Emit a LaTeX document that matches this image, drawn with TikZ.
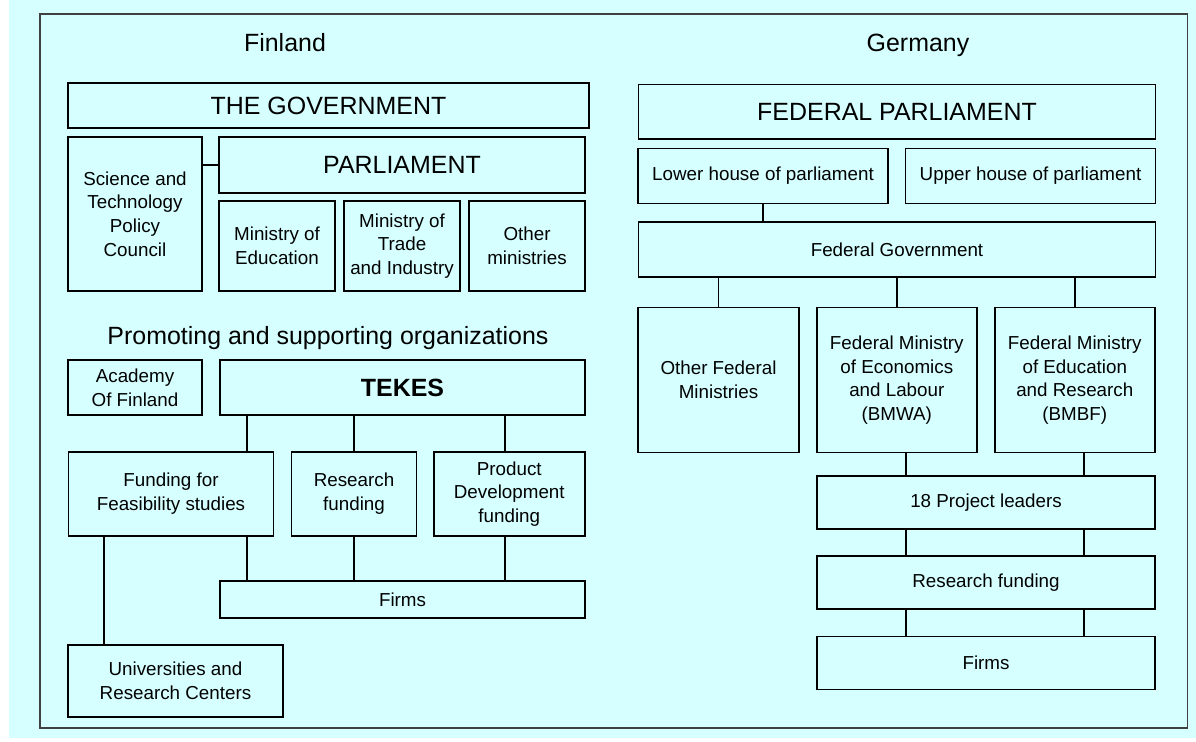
\documentclass[tikz,border=0pt]{standalone}
\usepackage{fontspec}
\setmainfont{Liberation Sans}
\usetikzlibrary{positioning}
\definecolor{bgcyan}{RGB}{214,255,255}
\tikzset{
  box/.style={draw=black,line width=0.9pt,inner sep=0pt,align=center,font=\fontsize{10.7}{13.5}\selectfont},
  bigbox/.style={box,font=\fontsize{14.2}{17}\selectfont},
  heading/.style={inner sep=0pt,anchor=base,font=\fontsize{14.2}{17}\selectfont},
  link/.style={line width=0.9pt}
}
\begin{document}
\begin{tikzpicture}[x=0.02cm,y=-0.02cm]
\useasboundingbox (0,0) rectangle (1196,742);
\fill[white] (0,0) rectangle (1196,742);
\fill[bgcyan] (9,0) rectangle (1196,738);
\draw[black!75,line width=0.9pt] (40,14) rectangle (1187.5,728);
% Finland
\node[heading] (fin) at (285,52) {Finland};
\node[bigbox,minimum width=10.42cm,minimum height=0.9cm] (gov) at (328.5,105.5) {THE GOVERNMENT};
\node[box,minimum width=2.68cm,minimum height=3.08cm] (stpc) at (135,214) {Science and\\Technology\\Policy\\Council};
\node[bigbox,minimum width=7.32cm,minimum height=1.12cm] (parl) at (402,165) {PARLIAMENT};
\node[box,minimum width=2.32cm,minimum height=1.8cm] (moe) at (277,246) {Ministry of\\Education};
\node[box,minimum width=2.32cm,minimum height=1.8cm] (mti) at (402,246) {Ministry of\\Trade\\and Industry};
\node[box,minimum width=2.32cm,minimum height=1.8cm] (othm) at (527,246) {Other\\ministries};
\node[heading] (prom) at (328,345) {Promoting and supporting organizations};
\node[box,minimum width=2.68cm,minimum height=1.1cm] (aof) at (135,387.5) {Academy\\Of Finland};
\node[bigbox,minimum width=7.3cm,minimum height=1.1cm,font=\fontsize{14.2}{17}\selectfont\bfseries] (tekes) at (402.5,387.5) {TEKES};
\node[box,minimum width=4.1cm,minimum height=1.68cm] (feas) at (171,494) {Funding for\\Feasibility studies};
\node[box,minimum width=2.5cm,minimum height=1.68cm] (resf) at (354,494) {Research\\funding};
\node[box,minimum width=3.02cm,minimum height=1.68cm] (prodf) at (509.3,494) {Product\\Development\\funding};
\node[box,minimum width=7.3cm,minimum height=0.74cm] (firmsfi) at (402.5,599.5) {Firms};
\node[box,minimum width=4.3cm,minimum height=1.44cm] (univ) at (175.5,681) {Universities and\\Research Centers};
\coordinate (xa) at (247,0);
\coordinate (xb) at (354,0);
\coordinate (xc) at (505,0);
\coordinate (xd) at (104,0);
\draw[link] (stpc.east |- parl.west) -- (parl.west);
\draw[link] (tekes.south -| xa) -- (feas.north -| xa);
\draw[link] (tekes.south -| xb) -- (resf.north -| xb);
\draw[link] (tekes.south -| xc) -- (prodf.north -| xc);
\draw[link] (feas.south -| xa) -- (firmsfi.north -| xa);
\draw[link] (resf.south -| xb) -- (firmsfi.north -| xb);
\draw[link] (prodf.south -| xc) -- (firmsfi.north -| xc);
\draw[link] (feas.south -| xd) -- (univ.north -| xd);
% Germany
\node[heading] (ger) at (918,52) {Germany};
\node[bigbox,minimum width=10.34cm,minimum height=1.09cm] (fedparl) at (897,111.7) {FEDERAL PARLIAMENT};
\node[box,minimum width=5cm,minimum height=1.1cm] (lower) at (763,176) {Lower house of parliament};
\node[box,minimum width=5cm,minimum height=1.1cm] (upper) at (1030.5,176) {Upper house of parliament};
\node[box,minimum width=10.34cm,minimum height=1.1cm] (fedgov) at (897,249.7) {Federal Government};
\node[box,minimum width=3.22cm,minimum height=2.9cm] (ofm) at (718.5,380) {Other Federal\\Ministries};
\node[box,minimum width=3.2cm,minimum height=2.9cm] (bmwa) at (896.8,380) {Federal Ministry\\of Economics\\and Labour\\(BMWA)};
\node[box,minimum width=3.2cm,minimum height=2.9cm] (bmbf) at (1074.8,380) {Federal Ministry\\of Education\\and Research\\(BMBF)};
\node[box,minimum width=6.76cm,minimum height=1.06cm] (pl) at (986,502.7) {18 Project leaders};
\node[box,minimum width=6.76cm,minimum height=1.06cm] (rf) at (986,582.7) {Research funding};
\node[box,minimum width=6.76cm,minimum height=1.06cm] (firmsde) at (986,663) {Firms};
\coordinate (xl) at (906,0);
\coordinate (xr) at (1084,0);
\draw[link] (lower.south) -- (fedgov.north -| lower.south);
\draw[link] (fedgov.south -| ofm.north) -- (ofm.north);
\draw[link] (fedgov.south -| bmwa.north) -- (bmwa.north);
\draw[link] (fedgov.south -| bmbf.north) -- (bmbf.north);
\draw[link] (bmwa.south -| xl) -- (pl.north -| xl);
\draw[link] (bmbf.south -| xr) -- (pl.north -| xr);
\draw[link] (pl.south -| xl) -- (rf.north -| xl);
\draw[link] (pl.south -| xr) -- (rf.north -| xr);
\draw[link] (rf.south -| xl) -- (firmsde.north -| xl);
\draw[link] (rf.south -| xr) -- (firmsde.north -| xr);
\end{tikzpicture}
\end{document}
